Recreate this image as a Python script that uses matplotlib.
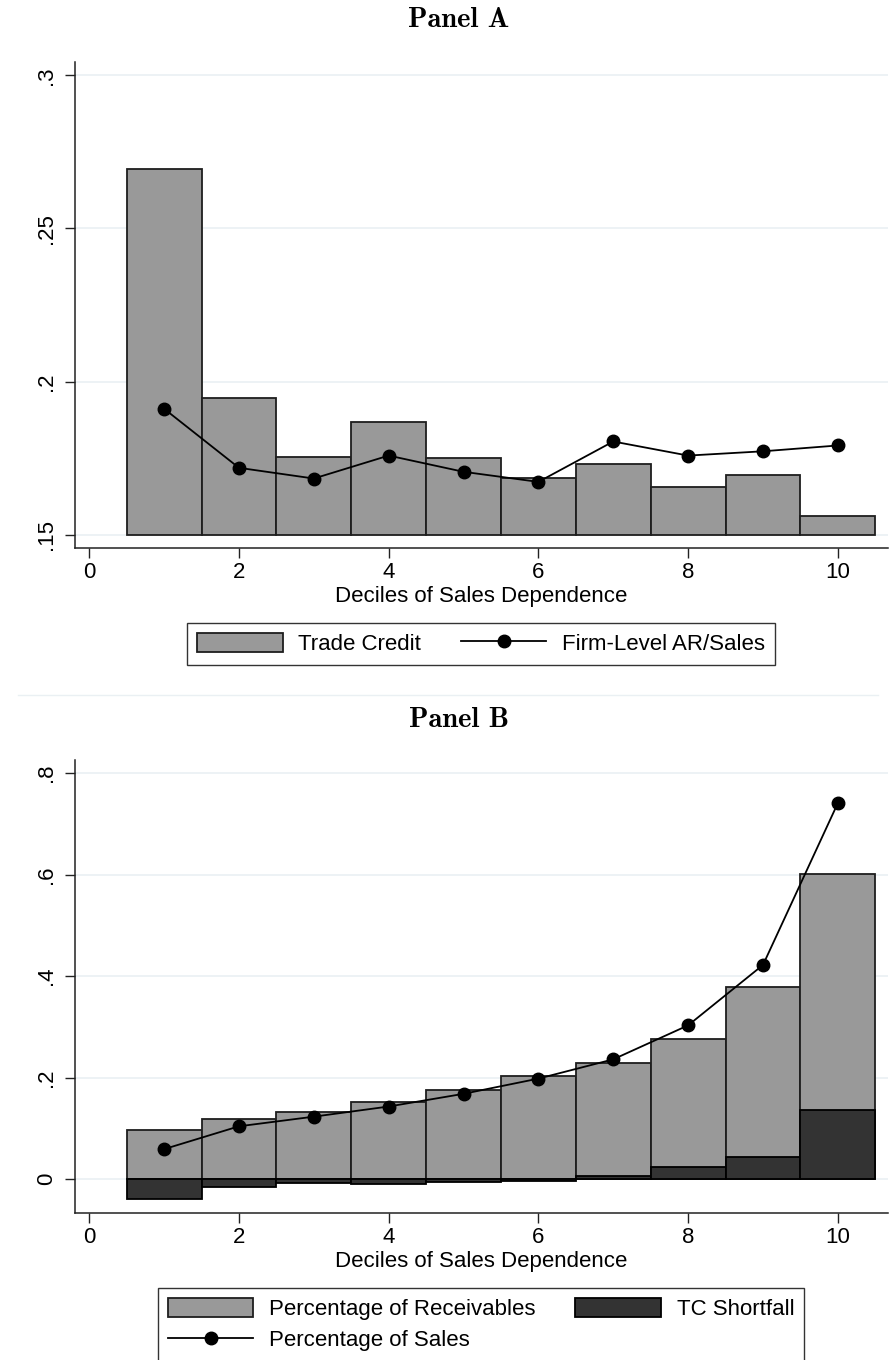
import numpy as np
import matplotlib.pyplot as plt
from matplotlib.patches import Patch
from matplotlib.lines import Line2D

plt.rcParams['font.family'] = ['Liberation Sans', 'DejaVu Sans']

# Data
deciles = np.arange(1, 11)

# Panel A
trade_credit = [0.2696, 0.1947, 0.1754, 0.1869, 0.1751, 0.1685, 0.1731, 0.1655, 0.1695, 0.1560]
firm_ar_sales = [0.1911, 0.1718, 0.1683, 0.1758, 0.1705, 0.1672, 0.1804, 0.1758, 0.1772, 0.1791]

# Panel B
pct_receivables = [0.097, 0.119, 0.132, 0.152, 0.176, 0.203, 0.229, 0.277, 0.378, 0.601]
tc_shortfall = [-0.039, -0.016, -0.008, -0.010, -0.005, -0.004, 0.007, 0.023, 0.043, 0.137]
pct_sales = [0.059, 0.104, 0.123, 0.143, 0.168, 0.198, 0.236, 0.303, 0.422, 0.741]

xticks = [0, 2, 4, 6, 8, 10]
yticks_a = [0.15, 0.2, 0.25, 0.3]
yticks_a_lab = ['.15', '.2', '.25', '.3']
yticks_b = [0, 0.2, 0.4, 0.6, 0.8]
yticks_b_lab = ['0', '.2', '.4', '.6', '.8']

W, H = 896, 1360
light = '#999999'
dark = '#333333'
edge = '#1e1e1e'
grid = '#eaf0f3'
fs = 16


def px_axes(fig, left, top, right, bottom):
    return fig.add_axes([left / W, 1 - bottom / H, (right - left) / W, (bottom - top) / H])


def style(ax, yt, ylab):
    for s in ['top', 'right']:
        ax.spines[s].set_visible(False)
    for s in ['left', 'bottom']:
        ax.spines[s].set_color('#222222')
        ax.spines[s].set_linewidth(1.1)
    ax.set_xticks(xticks)
    ax.set_yticks(yt)
    ax.set_yticklabels(ylab, rotation=90, va='center')
    ax.tick_params(axis='both', direction='out', length=7, width=1, color='#222222', labelsize=fs)
    ax.tick_params(axis='x', pad=3)
    ax.tick_params(axis='y', pad=6)
    ax.set_axisbelow(True)
    ax.yaxis.grid(True, color=grid, linewidth=1.2)
    ax.set_xlabel('Deciles of Sales Dependence', fontsize=fs, labelpad=2)


def legend(ax, handles, labels, top):
    leg = ax.legend(handles, labels, ncol=2, fontsize=fs, loc='upper center',
                    bbox_to_anchor=(481 / W, 1 - top / H),
                    bbox_transform=fig.transFigure, frameon=True, fancybox=False,
                    edgecolor='black', handlelength=3.85, handleheight=0.95,
                    columnspacing=1.8, borderpad=0.45, borderaxespad=0,
                    handletextpad=0.7, labelspacing=0.4)
    leg.get_frame().set_linewidth(1.0)
    return leg


fig = plt.figure(figsize=(W / 100, H / 100), dpi=100)

# Panel A
axA = px_axes(fig, 75, 62, 888, 548)
axA.bar(deciles, np.array(trade_credit) - 0.15, bottom=0.15, width=1.0,
        color=light, edgecolor=edge, linewidth=1.3, zorder=2)
axA.plot(deciles, firm_ar_sales, color='black', linewidth=1.3, marker='o',
         markersize=9, zorder=3)
axA.set_xlim(-0.19, 10.67)
axA.set_ylim(0.1456, 0.3044)
style(axA, yticks_a, yticks_a_lab)
fig.text(459 / W, 1 - 20 / H, 'Panel A', fontsize=20.5, family='cmb10', ha='center', va='center')

hA = [Patch(facecolor=light, edgecolor=edge, linewidth=1.3),
      Line2D([], [], color='black', linewidth=1.3, marker='o', markersize=9)]
legend(axA, hA, ['Trade Credit', 'Firm-Level AR/Sales'], 622.5)

# faint separator between the two panels
fig.add_artist(Line2D([0.02, 0.98], [1 - 695 / H, 1 - 695 / H], color=grid, linewidth=1.0))

# Panel B
axB = px_axes(fig, 75, 760, 888, 1213)
axB.bar(deciles, pct_receivables, width=1.0, color=light, edgecolor=edge,
        linewidth=1.3, zorder=2)
axB.bar(deciles, tc_shortfall, width=1.0, color=dark, edgecolor='black',
        linewidth=1.3, zorder=2)
axB.plot(deciles, pct_sales, color='black', linewidth=1.3, marker='o',
         markersize=9, zorder=3)
axB.set_xlim(-0.19, 10.67)
axB.set_ylim(-0.0669, 0.826)
style(axB, yticks_b, yticks_b_lab)
fig.text(459 / W, 1 - 720 / H, 'Panel B', fontsize=20.5, family='cmb10', ha='center', va='center')

hB = [Patch(facecolor=light, edgecolor=edge, linewidth=1.3),
      Line2D([], [], color='black', linewidth=1.3, marker='o', markersize=9),
      Patch(facecolor=dark, edgecolor='black', linewidth=1.3)]
legend(axB, hB, ['Percentage of Receivables', 'Percentage of Sales', 'TC Shortfall'], 1288)

fig.savefig('out.png', dpi=100)
